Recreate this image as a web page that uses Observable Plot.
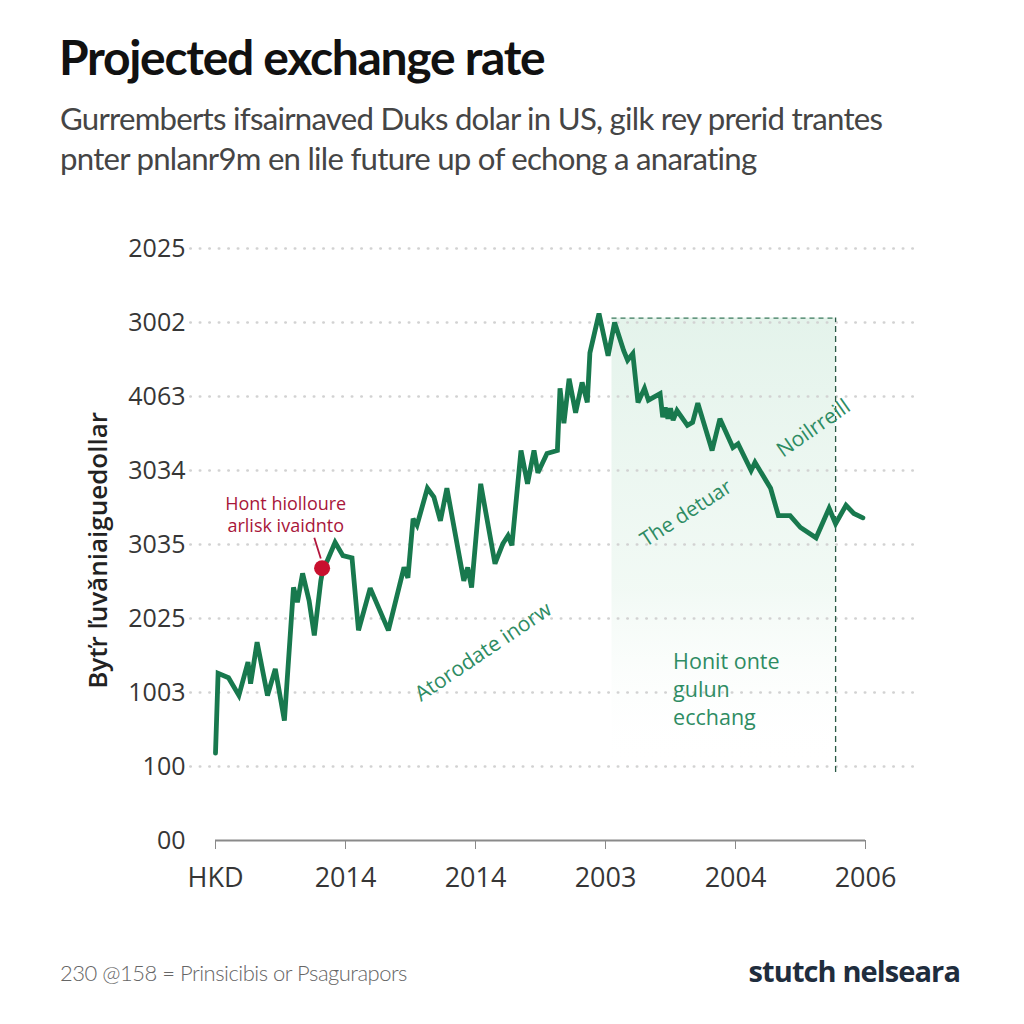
<!DOCTYPE html>
<html>
<head>
<meta charset="utf-8">
<script src="https://cdn.jsdelivr.net/npm/d3@7"></script>
<script src="https://cdn.jsdelivr.net/npm/@observablehq/plot@0.6"></script>
<style>
  html, body { margin: 0; padding: 0; background: #fff; }
  #page { position: relative; width: 1024px; height: 1024px; overflow: hidden; background: #fff; }
  #title { position: absolute; left: 59px; top: 28px; font-family: Lato, sans-serif; font-weight: 700; font-size: 48px; letter-spacing: -1.3px; color: #111; }
  #subtitle { position: absolute; left: 60px; top: 98px; font-family: Lato, sans-serif; font-size: 31.2px; line-height: 40px; letter-spacing: -0.75px; color: #454545; }
  #chart { position: absolute; left: 0; top: 200px; }
  #source { position: absolute; left: 60px; top: 959px; font-family: Lato, sans-serif; font-weight: 300; font-size: 22px; letter-spacing: -0.5px; color: #666; }
  #brand { position: absolute; right: 64px; top: 951px; font-family: 'Open Sans', sans-serif; font-weight: 700; font-size: 29px; letter-spacing: -0.9px; color: #1f2d3d; }
</style>
</head>
<body>
<div id="page">
  <div id="title">Projected exchange rate</div>
  <div id="subtitle">Gurremberts ifsairnaved Duks dolar in US, gilk rey prerid trantes<br>pnter pnlanr9m en lile future up of echong a anarating</div>
  <div id="chart"></div>
  <div id="source">230 @158 = Prinsicibis or Psagurapors</div>
  <div id="brand">stutch nelseara</div>
</div>
<script>
// Tick labels (positions are tick indices)
const yTickLabels = ["00", "100", "1003", "2025", "3035", "3034", "4063", "3002", "2025"];
const xTickLabels = ["HKD", "2014", "2014", "2003", "2004", "2006"];

// Series (x and y in tick-index units)
const seriesX = [0, 0.02, 0.10, 0.18, 0.25, 0.27, 0.32, 0.40, 0.46, 0.53, 0.60, 0.63, 0.67, 0.72, 0.76, 0.81, 0.83, 0.86, 0.92, 0.98,
  1.05, 1.10, 1.19, 1.33, 1.45, 1.48, 1.52, 1.55, 1.63, 1.68, 1.73, 1.78, 1.91, 1.94, 1.97, 2.04, 2.15, 2.21, 2.25, 2.28,
  2.35, 2.40, 2.45, 2.48, 2.55, 2.63, 2.65, 2.68, 2.72, 2.77, 2.82, 2.86, 2.88, 2.95, 3.02, 3.07, 3.14, 3.17, 3.21, 3.25,
  3.30, 3.33, 3.42, 3.44, 3.46, 3.48, 3.50, 3.52, 3.55, 3.63, 3.67, 3.71, 3.82, 3.88, 3.98, 4.02, 4.12, 4.15, 4.27, 4.33,
  4.42, 4.50, 4.62, 4.72, 4.77, 4.85, 4.91, 4.98];
const seriesY = [1.18, 2.26, 2.20, 1.96, 2.41, 2.12, 2.68, 1.96, 2.32, 1.62, 3.42, 3.22, 3.61, 3.24, 2.77, 3.51, 3.69, 3.78, 4.03, 3.85,
  3.82, 2.84, 3.41, 2.84, 3.69, 3.55, 4.35, 4.26, 4.76, 4.64, 4.32, 4.76, 3.51, 3.69, 3.42, 4.82, 3.74, 4.01, 4.12, 3.99,
  5.27, 4.82, 5.27, 4.97, 5.23, 5.27, 6.11, 5.64, 6.24, 5.78, 6.19, 5.92, 6.59, 7.12, 6.55, 7.00, 6.62, 6.49, 6.58, 5.92,
  6.11, 5.95, 6.04, 5.72, 5.85, 5.70, 5.84, 5.68, 5.81, 5.61, 5.65, 5.91, 5.27, 5.70, 5.31, 5.36, 5.00, 5.11, 4.76, 4.39,
  4.39, 4.23, 4.09, 4.49, 4.28, 4.53, 4.42, 4.36];

// Highlighted point and projection window
const highlight = [{x: 0.82, y: 3.68}];
const projStart = 3.05, projEnd = 4.77, projTop = 7.06, projBottom = 0.95;

const lineData = seriesX.map((x, i) => ({x, y: seriesY[i]}));
const yIdx = d3.range(yTickLabels.length);
const xIdx = d3.range(xTickLabels.length);
const green = "#18794e";
const annoGreen = "#2e8c63";

const chart = Plot.plot({
  width: 1024,
  height: 720,
  marginLeft: 215,
  marginRight: 159,
  marginTop: 48,
  marginBottom: 80,
  x: {domain: [0, 5]},
  y: {domain: [0, 8]},
  style: {fontFamily: "'Open Sans', sans-serif", background: "transparent", color: "#363636"},
  marks: [
    Plot.rect([{}], {x1: projStart, x2: projEnd, y1: projBottom, y2: projTop, fill: "url(#shade)"}),
    Plot.ruleY(yIdx.slice(1), {x1: -0.19, x2: 5.38, stroke: "#d2d2d2", strokeWidth: 2.5, strokeDasharray: "0.5,9", strokeLinecap: "round"}),
    Plot.ruleY([projTop], {x1: projStart, x2: projEnd, stroke: "#3d7a5e", strokeWidth: 1.2, strokeDasharray: "5,4"}),
    Plot.ruleX([projEnd], {y1: 0.92, y2: projTop, stroke: "#2a5a45", strokeWidth: 1.3, strokeDasharray: "6,4"}),
    Plot.axisY({ticks: yIdx, tickFormat: i => yTickLabels[i], tickSize: 0, tickPadding: 30, fontSize: 25, fontWeight: 500, label: null}),
    Plot.axisX({ticks: xIdx, tickFormat: i => xTickLabels[i], tickSize: 9, tickPadding: 18, fontSize: 27, label: null, stroke: "#8a8a8a"}),
    Plot.ruleY([0], {stroke: "#8a8a8a", strokeWidth: 2}),
    Plot.line(lineData, {x: "x", y: "y", stroke: green, strokeWidth: 4.8, strokeLinejoin: "miter", strokeMiterlimit: 3}),
    Plot.link([{}], {x1: 0.76, y1: 4.09, x2: 0.81, y2: 3.81, stroke: "#b3163d", strokeWidth: 1.8}),
    Plot.dot(highlight, {x: "x", y: "y", r: 8, fill: "#c8102e"}),
    Plot.text([{}], {x: 0.54, y: 4.41, text: () => "Hont hiolloure\narlisk ivaidnto", fill: "#a8163a", fontSize: 18, lineHeight: 1.22}),
    Plot.text([{}], {x: 2.06, y: 2.55, text: () => "Atorodate inorw", fill: annoGreen, fontSize: 21, rotate: -34}),
    Plot.text([{}], {x: 3.62, y: 4.42, text: () => "The detuar", fill: annoGreen, fontSize: 20.5, rotate: -33}),
    Plot.text([{}], {x: 4.6, y: 5.57, text: () => "Noilrreill", fill: annoGreen, fontSize: 21, rotate: -35}),
    Plot.text([{}], {x: 3.52, y: 2.06, text: () => "Honit onte\ngulun\necchang", fill: annoGreen, fontSize: 21.5, textAnchor: "start", lineHeight: 1.3}),
    Plot.text([{}], {x: -0.9, y: 3.92, text: () => "Byťr ľuvǎniaiguedollar", fill: "#222", fontSize: 26, fontWeight: 600, rotate: -90})
  ]
});

const defs = d3.select(chart).insert("defs", ":first-child");
const grad = defs.append("linearGradient").attr("id", "shade").attr("x1", 0).attr("y1", 0).attr("x2", 0).attr("y2", 1);
grad.append("stop").attr("offset", "0%").attr("stop-color", "#e4f3eb").attr("stop-opacity", 1);
grad.append("stop").attr("offset", "60%").attr("stop-color", "#eef8f2").attr("stop-opacity", 0.8);
grad.append("stop").attr("offset", "100%").attr("stop-color", "#ffffff").attr("stop-opacity", 0);

document.getElementById("chart").appendChild(chart);
</script>
</body>
</html>
